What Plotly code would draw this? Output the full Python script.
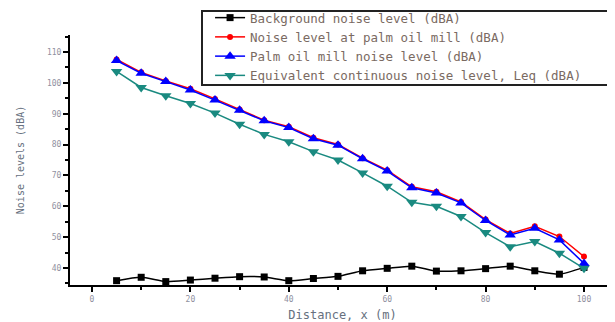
import plotly.graph_objects as go

distance = [5, 10, 15, 20, 25, 30, 35, 40, 45, 50, 55, 60, 65, 70, 75, 80, 85, 90, 95, 100]
background = [35.9, 37.0, 35.6, 36.1, 36.7, 37.2, 37.1, 35.9, 36.6, 37.3, 39.1, 39.9, 40.6, 39.0, 39.1, 39.8, 40.6, 39.1, 38.0, 40.2]
palm_mill_level = [107.6, 103.4, 100.6, 98.1, 94.8, 91.4, 87.9, 85.8, 82.2, 80.0, 75.6, 71.7, 66.3, 64.7, 61.4, 55.7, 51.2, 53.5, 50.2, 43.7]
palm_mill_noise = [107.2, 103.1, 100.4, 97.7, 94.4, 91.1, 87.7, 85.5, 81.9, 79.8, 75.4, 71.4, 66.0, 64.3, 61.1, 55.4, 50.7, 52.9, 49.1, 41.5]
leq = [103.7, 98.5, 95.8, 93.3, 90.2, 86.6, 83.3, 80.9, 77.7, 75.0, 70.8, 66.5, 61.3, 60.0, 56.7, 51.5, 46.9, 48.6, 44.8, 39.9]

names = [
    "Background noise level (dBA)",
    "Noise level at palm oil mill (dBA)",
    "Palm oil mill noise level (dBA)",
    "Equivalent continuous noise level, Leq (dBA)",
]
x_ticks = [0, 20, 40, 60, 80, 100]
y_ticks = [40, 50, 60, 70, 80, 90, 100, 110]

fig = go.Figure()
fig.add_trace(go.Scatter(x=distance, y=background, name=names[0], mode="lines+markers",
                         line=dict(color="black", width=1.5, shape="spline", smoothing=0.6),
                         marker=dict(symbol="square", size=7, color="black")))
fig.add_trace(go.Scatter(x=distance, y=palm_mill_level, name=names[1], mode="lines+markers",
                         line=dict(color="#ff0000", width=1.5),
                         marker=dict(symbol="circle", size=6, color="#ff0000")))
fig.add_trace(go.Scatter(x=distance, y=palm_mill_noise, name=names[2], mode="lines+markers",
                         line=dict(color="#0000ff", width=1.5),
                         marker=dict(symbol="triangle-up", size=10, color="#0000ff")))
fig.add_trace(go.Scatter(x=distance, y=leq, name=names[3], mode="lines+markers",
                         line=dict(color="#1a8a80", width=1.5),
                         marker=dict(symbol="triangle-down", size=10, color="#1a8a80")))

tick_font = dict(family="DejaVu Sans Mono", size=8, color="#9090a0")

# page offset of 8px (browser body margin) compensated in the margins
fig.update_layout(
    width=607, height=314,
    margin=dict(l=62, r=0, t=27, b=37, autoexpand=False),
    paper_bgcolor="white", plot_bgcolor="white",
    showlegend=True,
    legend=dict(
        x=0.257, y=1.128, xanchor="left", yanchor="top",
        borderwidth=0, bgcolor="rgba(0,0,0,0)",
        font=dict(family="DejaVu Sans Mono", size=12.5, color="#7a6a62"),
        tracegroupgap=0,
    ),
    shapes=[dict(type="rect", xref="paper", yref="paper",
                 x0=0.2422, x1=0.9945, y0=0.80, y1=1.096,
                 line=dict(color="#222222", width=2), fillcolor="white", layer="below")],
    xaxis=dict(
        range=[-4.47, 106.3], showgrid=False, zeroline=False, automargin=False,
        showline=True, linecolor="black", linewidth=2,
        ticks="outside", tickcolor="black", ticklen=5, tickwidth=1.5,
        tickvals=x_ticks, ticktext=[str(v) for v in x_ticks],
        minor=dict(tickvals=[10, 30, 50, 70, 90], ticks="outside", ticklen=3, tickcolor="black", tickwidth=1.5),
        tickfont=tick_font,
        title=dict(text="Distance, x (m)", font=dict(family="DejaVu Sans Mono", size=12, color="#66707e"), standoff=10),
    ),
    yaxis=dict(
        range=[34.5, 115.5], showgrid=False, zeroline=False, automargin=False,
        showline=True, linecolor="black", linewidth=2,
        ticks="outside", tickcolor="black", ticklen=5, tickwidth=1.5,
        tickvals=y_ticks, ticktext=[str(v) for v in y_ticks],
        minor=dict(tickvals=[35, 45, 55, 65, 75, 85, 95, 105, 115], ticks="outside", ticklen=3, tickcolor="black", tickwidth=1.5),
        tickfont=tick_font,
        title=dict(text="Noise levels (dBA)", font=dict(family="DejaVu Sans Mono", size=10, color="#66707e"), standoff=20),
    ),
)

fig.write_html("out.html")
